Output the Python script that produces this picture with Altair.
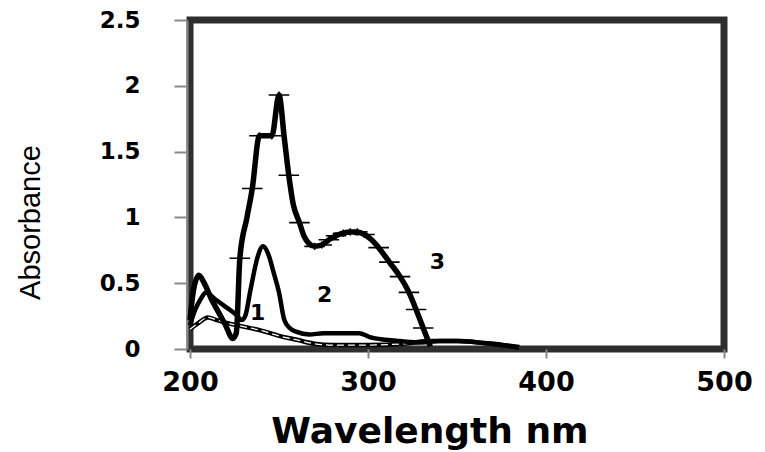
import altair as alt
import pandas as pd

# Curve 3
w3 = [200, 202, 205, 208, 212, 216, 220, 224, 226, 228, 232, 235, 239, 246, 250, 253, 255.5, 258, 261.5, 264,
      267, 270, 274, 278, 282, 286, 290, 294, 298, 302, 306, 312, 318, 323, 327, 331, 335]
a3 = [0.22, 0.45, 0.56, 0.5, 0.38, 0.28, 0.18, 0.08, 0.12, 0.69, 1.0, 1.22, 1.62, 1.62, 1.93, 1.6, 1.32, 1.1, 0.96, 0.86,
      0.8, 0.78, 0.79, 0.83, 0.86, 0.88, 0.89, 0.89, 0.87, 0.83, 0.77, 0.66, 0.55, 0.43, 0.3, 0.16, 0.02]
# marker positions on curve 3
m3w = [228, 235, 239, 246, 250, 255.5, 261.5, 270, 274, 278, 282, 286, 290, 294, 298, 306, 312, 318, 323, 327, 331]
m3a = [0.69, 1.22, 1.62, 1.62, 1.93, 1.32, 0.96, 0.78, 0.79, 0.83, 0.86, 0.88, 0.89, 0.89, 0.87, 0.77, 0.66, 0.55, 0.43, 0.3, 0.16]

# Curve 2
w2 = [200, 203, 206, 209, 214, 220, 226, 229, 231, 234, 238, 241, 244, 247, 250, 253, 256, 260, 267, 275, 285,
      295, 301, 310, 318, 330, 340, 352, 362, 370, 385]
a2 = [0.18, 0.3, 0.38, 0.43, 0.38, 0.32, 0.26, 0.22, 0.25, 0.45, 0.7, 0.78, 0.72, 0.58, 0.43, 0.22, 0.16, 0.13, 0.11, 0.12, 0.12,
      0.12, 0.09, 0.07, 0.06, 0.05, 0.06, 0.06, 0.05, 0.04, 0.015]

# Curve 1
w1 = [200, 205, 210, 215, 220, 230, 240, 250, 260, 270, 280, 300, 320, 335, 350, 365, 380, 385]
a1 = [0.15, 0.2, 0.24, 0.22, 0.2, 0.17, 0.14, 0.1, 0.07, 0.04, 0.03, 0.03, 0.04, 0.06, 0.06, 0.045, 0.02, 0.01]

# Curve labels
lab_text = ["1", "2", "3"]
lab_w = [238, 275.7, 339]
lab_a = [0.275, 0.41, 0.66]

x_ticks = [200, 300, 400, 500]
y_ticks = [0, 0.5, 1, 1.5, 2, 2.5]

d3 = pd.DataFrame({"w": w3, "a": a3})
dm3 = pd.DataFrame({"w": m3w, "a": m3a})
d2 = pd.DataFrame({"w": w2, "a": a2})
d1 = pd.DataFrame({"w": w1, "a": a1})
dl = pd.DataFrame({"w": lab_w, "a": lab_a, "t": lab_text})

xs = alt.Scale(domain=[200, 500], nice=False, zero=False)
ys = alt.Scale(domain=[0, 2.5], nice=False)

x_enc = alt.X("w:Q", scale=xs, axis=alt.Axis(
    values=x_ticks, title="Wavelength nm", grid=False, domain=False,
    ticks=True, tickColor="#888888", tickSize=9, tickWidth=2,
    labelFont="DejaVu Sans", labelFontWeight="bold", labelFontSize=27, labelColor="black",
    labelPadding=11, labelFlush=False,
    titleFont="DejaVu Sans", titleFontWeight="bold", titleFontSize=36, titleColor="black",
    titleX=239.5, titleY=93, titleAlign="center", titleBaseline="alphabetic",
))
y_enc = alt.Y("a:Q", scale=ys, axis=alt.Axis(
    values=y_ticks, format=".2~f", title="Absorbance", grid=False,
    domain=True, domainColor="#888888", domainWidth=2, offset=3,
    ticks=True, tickColor="#888888", tickSize=13, tickWidth=2,
    labelFont="DejaVu Sans", labelFontWeight="bold", labelFontSize=23, labelColor="black",
    labelPadding=34, labelFlush=False,
    titleFont="Liberation Sans", titleFontWeight="normal", titleFontSize=29, titleColor="black",
    titleX=-157, titleY=202, titleAlign="center", titleBaseline="middle", titleAngle=-90,
))

line3 = alt.Chart(d3).mark_line(color="black", strokeWidth=5.5, interpolate="monotone").encode(x=x_enc, y=y_enc)
mark3 = alt.Chart(dm3).mark_point(shape="M-1,0H1M0,-0.35V0.35", filled=False, color="black",
                                  strokeWidth=1.6, size=420, opacity=1).encode(x=x_enc, y=y_enc)
line2 = alt.Chart(d2).mark_line(color="black", strokeWidth=4.5, interpolate="monotone").encode(x=x_enc, y=y_enc)
line1 = alt.Chart(d1).mark_line(color="black", strokeWidth=4.5, interpolate="monotone").encode(x=x_enc, y=y_enc)
line1w = alt.Chart(d1).mark_line(color="white", strokeWidth=1.3, strokeDash=[7, 4],
                                 interpolate="monotone").encode(x=x_enc, y=y_enc)
labels = alt.Chart(dl).mark_text(font="DejaVu Sans", fontWeight="bold", fontSize=22, color="black",
                                 align="center", baseline="middle").encode(x=x_enc, y=y_enc, text="t:N")

chart = alt.layer(line1, line1w, line2, line3, mark3, labels).properties(
    width=534, height=329,
    background="white",
    autosize=alt.AutoSizeParams(type="none"),
    padding={"left": 182, "top": 12, "right": 30, "bottom": 110},
).configure_view(
    stroke="#2e2e2e", strokeWidth=7
)

chart.save("out.html", embed_options={"renderer": "svg", "actions": False})
